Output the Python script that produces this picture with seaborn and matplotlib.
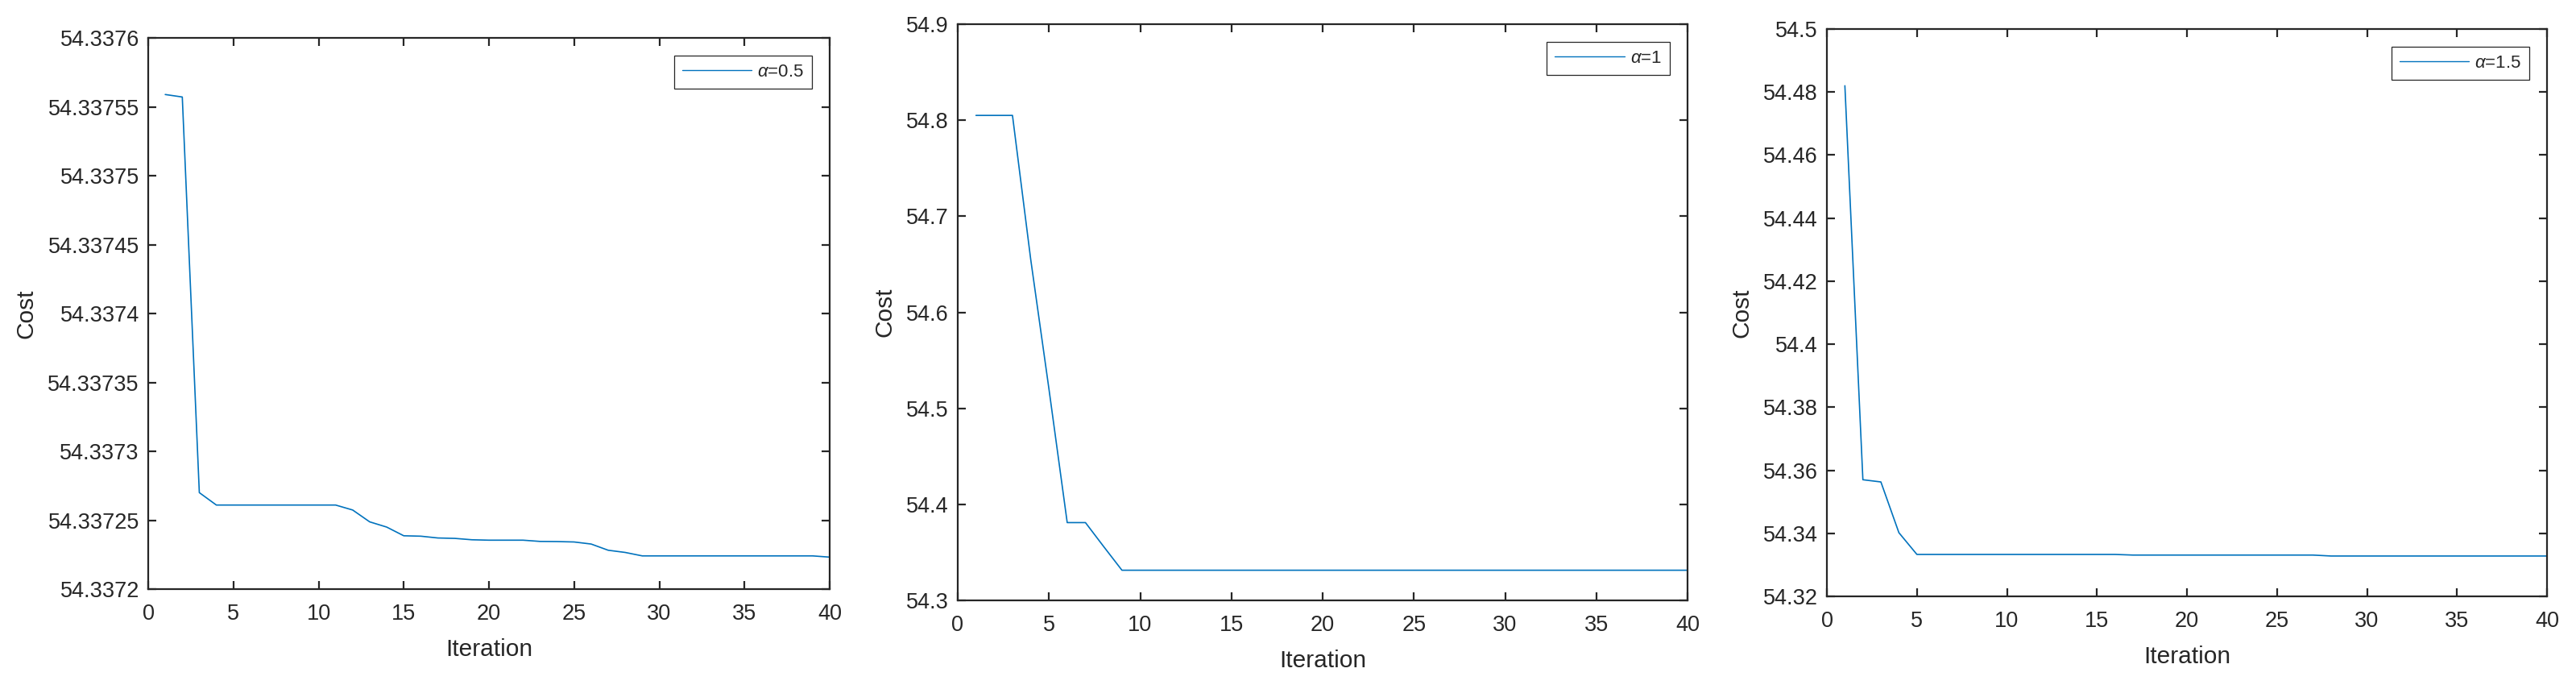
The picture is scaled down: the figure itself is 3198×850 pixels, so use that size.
import matplotlib
matplotlib.use("Agg")
import matplotlib.pyplot as plt
import seaborn as sns
from matplotlib.ticker import FuncFormatter, FixedLocator

# ---------------- data ----------------
iterations = list(range(1, 41))

cost_a05 = [54.3375589, 54.3375571, 54.3372700, 54.3372610, 54.3372610,
            54.3372610, 54.3372610, 54.3372610, 54.3372610, 54.3372610,
            54.3372610, 54.3372574, 54.3372488, 54.3372450, 54.3372387,
            54.3372384, 54.3372371, 54.3372368, 54.3372358, 54.3372355,
            54.3372355, 54.3372355, 54.3372346, 54.3372345, 54.3372342,
            54.3372327, 54.3372282, 54.3372266, 54.3372241, 54.3372241,
            54.3372241, 54.3372241, 54.3372241, 54.3372241, 54.3372241,
            54.3372241, 54.3372241, 54.3372241, 54.3372241, 54.3372232]

cost_a1 = [54.805, 54.805, 54.805, 54.655, 54.520, 54.381, 54.381, 54.356,
           54.3314, 54.3314, 54.3314, 54.3314, 54.3314, 54.3314, 54.3314,
           54.3314, 54.3314, 54.3314, 54.3314, 54.3314, 54.3314, 54.3314,
           54.3314, 54.3314, 54.3314, 54.3314, 54.3314, 54.3314, 54.3314,
           54.3314, 54.3314, 54.3314, 54.3314, 54.3314, 54.3314, 54.3314,
           54.3314, 54.3314, 54.3314, 54.3314]

cost_a15 = [54.4820, 54.3570, 54.3563, 54.3402, 54.3333, 54.3333, 54.3333,
            54.3333, 54.3333, 54.3333, 54.3333, 54.3333, 54.3333, 54.3333,
            54.3333, 54.3333, 54.3331, 54.3331, 54.3331, 54.3331, 54.3331,
            54.3331, 54.3331, 54.3331, 54.3331, 54.3331, 54.3331, 54.3328,
            54.3328, 54.3328, 54.3328, 54.3328, 54.3328, 54.3328, 54.3328,
            54.3328, 54.3328, 54.3328, 54.3328, 54.3328]

labels = [r"$\alpha$=0.5", r"$\alpha$=1", r"$\alpha$=1.5"]
series = [cost_a05, cost_a1, cost_a15]

x_ticks = [0, 5, 10, 15, 20, 25, 30, 35, 40]
y_ticks = [
    [54.3372, 54.33725, 54.3373, 54.33735, 54.3374, 54.33745, 54.3375, 54.33755, 54.3376],
    [54.3, 54.4, 54.5, 54.6, 54.7, 54.8, 54.9],
    [54.32, 54.34, 54.36, 54.38, 54.40, 54.42, 54.44, 54.46, 54.48, 54.50],
]
x_label = "Iteration"
y_label = "Cost"

# ---------------- style ----------------
sns.set_style("ticks")
plt.rcParams["font.family"] = ["Liberation Sans", "DejaVu Sans"]
plt.rcParams["mathtext.fontset"] = "custom"
plt.rcParams["mathtext.rm"] = "Liberation Sans"
plt.rcParams["mathtext.it"] = "Liberation Sans:italic"

W, H = 3198, 850
fig = plt.figure(figsize=(W / 100, H / 100), dpi=100)

# axes boxes in pixel coordinates: left, right, top, bottom
boxes = [(184, 1030, 47, 731), (1189, 2095, 30, 745), (2268, 3162, 36, 740)]

line_color = "#0072BD"
dark = "#262626"


def fmt(v, pos):
    return f"{v:.5f}".rstrip("0").rstrip(".")


for (l, r, t, b), ys, lab, yt in zip(boxes, series, labels, y_ticks):
    ax = fig.add_axes([l / W, 1 - b / H, (r - l) / W, (b - t) / H])
    sns.lineplot(x=iterations, y=ys, ax=ax, color=line_color, lw=1.2, label=lab)
    ax.set_xlim(0, 40)
    ax.set_ylim(yt[0], yt[-1])
    ax.xaxis.set_major_locator(FixedLocator(x_ticks))
    ax.yaxis.set_major_locator(FixedLocator(yt))
    ax.yaxis.set_major_formatter(FuncFormatter(fmt))
    for s in ax.spines.values():
        s.set_visible(True)
        s.set_linewidth(1.6)
        s.set_color(dark)
    ax.tick_params(axis="both", direction="in", length=7, width=1.6,
                   color=dark, labelcolor=dark, labelsize=19.5,
                   top=True, right=True)
    ax.tick_params(axis="x", pad=13)
    ax.tick_params(axis="y", pad=8)
    ax.set_xlabel(x_label, fontsize=21.5, color=dark, labelpad=12)
    ax.set_ylabel(y_label, fontsize=21.5, color=dark, labelpad=9)
    leg = ax.legend(loc="upper right", fontsize=16, frameon=True, fancybox=False,
                    framealpha=1, edgecolor=dark, borderaxespad=1.0,
                    handlelength=3.9, handletextpad=0.3, borderpad=0.45)
    leg.get_frame().set_linewidth(0.9)
    for h in leg.get_lines():
        h.set_linewidth(1.0)

fig.savefig("out.png", dpi=100, facecolor="white")
